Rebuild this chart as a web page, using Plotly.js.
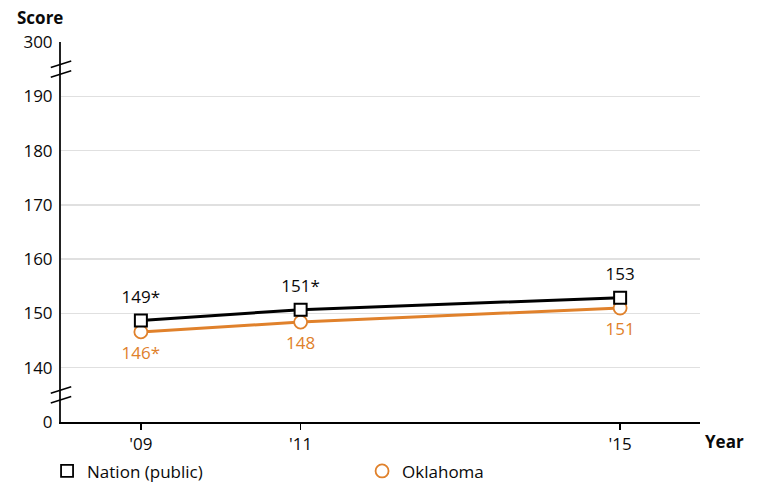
<!DOCTYPE html>
<html>
<head>
<meta charset="utf-8">
<script src="https://cdn.plot.ly/plotly-3.0.1.min.js"></script>
<style>html,body{margin:0;padding:0;background:#fff;}#chart{width:759px;height:482px;}</style>
</head>
<body>
<div id="chart"></div>
<script>
// Data
var years = [2009, 2011, 2015];
var yearLabels = ["'09", "'11", "'15"];
var nationScores = [148.7, 150.7, 152.9];
var nationLabels = ["149*", "151*", "153"];
var oklahomaScores = [146.6, 148.4, 151.0];
var oklahomaLabels = ["146*", "148", "151"];
// broken axis: display positions and their labels
var yTickVals = [130, 140, 150, 160, 170, 180, 190, 200];
var yTickText = ["0", "140", "150", "160", "170", "180", "190", "300"];
var seriesNames = ["Nation (public)", "Oklahoma"];

var FONT = "'Open Sans', 'Noto Sans', sans-serif";
var ORANGE = "#e0812b";
var TXT = "#0a0a0a";

var traces = [
  {
    x: years, y: oklahomaScores, mode: "lines+markers",
    line: {color: ORANGE, width: 3},
    marker: {symbol: "circle", size: 13, color: "#fff", line: {color: ORANGE, width: 1.8}},
    showlegend: false, hoverinfo: "skip", cliponaxis: false
  },
  {
    x: years, y: nationScores, mode: "lines+markers",
    line: {color: "#000", width: 3},
    marker: {symbol: "square", size: 12, color: "#fff", line: {color: "#000", width: 2}},
    showlegend: false, hoverinfo: "skip", cliponaxis: false
  },
  {
    x: years, y: oklahomaScores, mode: "markers+text",
    text: oklahomaLabels, textposition: "bottom center",
    textfont: {family: FONT, size: 17, color: ORANGE},
    marker: {size: 21, opacity: 0},
    showlegend: false, hoverinfo: "skip", cliponaxis: false
  },
  {
    x: years, y: nationScores, mode: "markers+text",
    text: nationLabels, textposition: "top center",
    textfont: {family: FONT, size: 17, color: TXT},
    marker: {size: 20, opacity: 0},
    showlegend: false, hoverinfo: "skip", cliponaxis: false
  },
  {
    x: [null], y: [null], mode: "markers", name: seriesNames[0],
    marker: {symbol: "square", size: 12, color: "#fff", line: {color: "#000", width: 1.8}}
  },
  {
    x: [null], y: [null], mode: "markers", name: seriesNames[1],
    marker: {symbol: "circle", size: 13, color: "#fff", line: {color: ORANGE, width: 1.8}}
  }
];

function brk(yv) {
  return [
    {type: "line", xref: "paper", yref: "y", x0: -0.016, x1: 0.016, y0: yv - 1.5, y1: yv - 0.3,
     line: {color: "#000", width: 1.5}},
    {type: "line", xref: "paper", yref: "y", x0: -0.016, x1: 0.016, y0: yv + 0.3, y1: yv + 1.5,
     line: {color: "#000", width: 1.5}}
  ];
}

var layout = {
  width: 759, height: 482,
  margin: {l: 61, r: 59, t: 42, b: 60},
  paper_bgcolor: "#fff", plot_bgcolor: "#fff",
  font: {family: FONT, size: 17, color: TXT},
  showlegend: true,
  legend: {
    orientation: "h", xref: "container", yref: "container",
    x: 0.062, y: 0.022, xanchor: "left", yanchor: "middle",
    entrywidth: 270, entrywidthmode: "pixels", bgcolor: "rgba(0,0,0,0)",
    font: {family: FONT, size: 17, color: TXT}, itemclick: false
  },
  xaxis: {
    range: [2008, 2016], tickvals: years, ticktext: yearLabels,
    showgrid: false, zeroline: false, showline: true, linecolor: "#000", linewidth: 2,
    ticks: "outside", ticklen: 6, tickwidth: 1.5, tickcolor: "#000",
    tickfont: {family: FONT, size: 17, color: TXT}, fixedrange: true
  },
  yaxis: {
    range: [130, 200], tickvals: yTickVals, ticktext: yTickText,
    showgrid: true, gridcolor: "#e0e0e0", gridwidth: 1.5, zeroline: false,
    showline: true, linecolor: "#222", linewidth: 2,
    ticks: "outside", ticklen: 3, tickcolor: "rgba(0,0,0,0)",
    tickfont: {family: FONT, size: 17, color: TXT}, fixedrange: true
  },
  shapes: brk(195).concat(brk(135)),
  annotations: [
    {text: "<b>Score</b>", xref: "paper", yref: "paper", x: -0.072, y: 1.065,
     xanchor: "left", yanchor: "middle", showarrow: false,
     font: {family: FONT, size: 17, color: TXT}},
    {text: "<b>Year</b>", xref: "paper", yref: "paper", x: 1.005, y: -0.05,
     xanchor: "left", yanchor: "middle", showarrow: false,
     font: {family: FONT, size: 17, color: TXT}}
  ]
};

Plotly.newPlot("chart", traces, layout, {displayModeBar: false, staticPlot: true});
</script>
</body>
</html>
